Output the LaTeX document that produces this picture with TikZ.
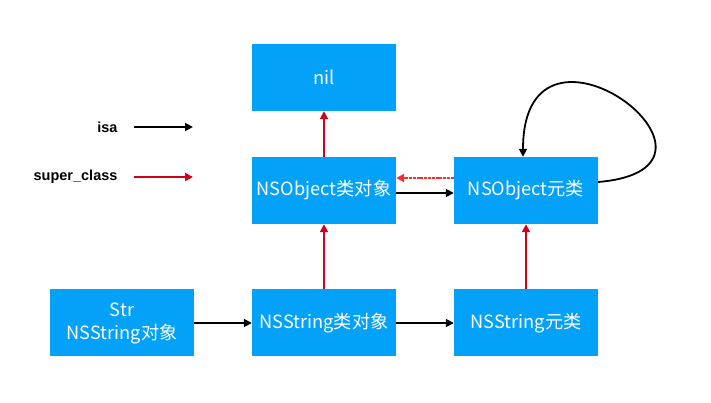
\documentclass[tikz,border=0pt]{standalone}
\usepackage{fontspec}
\setmainfont{Noto Sans CJK SC}
\newfontfamily\labelfont{Liberation Sans}
\usetikzlibrary{arrows.meta,calc}
\definecolor{boxblue}{RGB}{3,161,248}
\definecolor{superred}{RGB}{208,2,27}
\definecolor{lightred}{RGB}{250,45,45}

\begin{document}
\begin{tikzpicture}[x=1pt, y=1pt,
    cls/.style={fill=boxblue, text=white, minimum width=144pt, minimum height=67pt, inner sep=0pt, align=center, font=\fontsize{18.2}{23}\selectfont},
    legend/.style={anchor=east, font=\labelfont\bfseries\fontsize{14.5}{17}\selectfont},
    isaline/.style={line width=1.8pt, -{Triangle[length=8pt,width=8pt]}},
    superline/.style={line width=1.8pt, superred, -{Triangle[length=8pt,width=8pt]}}]
            \useasboundingbox[fill=white] (0,0) rectangle (711,403);
            \node[cls] (nil) at (324,325.5) {nil};
            \node[cls] (objcls) at (324,212.5) {NSObject类对象};
            \node[cls] (objmeta) at (526,212.5) {NSObject元类};
            \node[cls] (strobj) at (122,80) {Str\\NSString对象};
            \node[cls] (strcls) at (324,80) {NSString类对象};
            \node[cls] (strmeta) at (526,80) {NSString元类};
            \node[legend] (isalbl) at (121,276) {isa};
            \node[legend] (superlbl) at (121,226) {super\_class};
            \coordinate (isaend) at (193,276);
            \coordinate (superend) at (193,226);
            \draw[isaline] ([xshift=13pt]isalbl.east) -- (isaend);
            \draw[superline] ([xshift=13pt]superlbl.east) -- (superend);
            \draw[superline] (objcls) -- (nil);
            \draw[superline] (strcls) -- (objcls);
            \draw[superline] (strmeta) -- (objmeta);
            \draw[isaline] (strobj) -- (strcls);
            \draw[isaline] (strcls) -- (strmeta);
            \draw[isaline] ([yshift=-2.5pt]objcls.east) -- ([yshift=-2.5pt]objmeta.west);
            \draw[superline, lightred, line width=2pt, dash pattern=on 3pt off 0.8pt] ([yshift=12.5pt]objmeta.west) -- ([yshift=12.5pt]objcls.east);
            \draw[isaline] ([yshift=8.5pt]objmeta.east) .. controls +(164,14) and +(0,170) .. ([xshift=-3pt]objmeta.north);
        \end{tikzpicture}
\end{document}
